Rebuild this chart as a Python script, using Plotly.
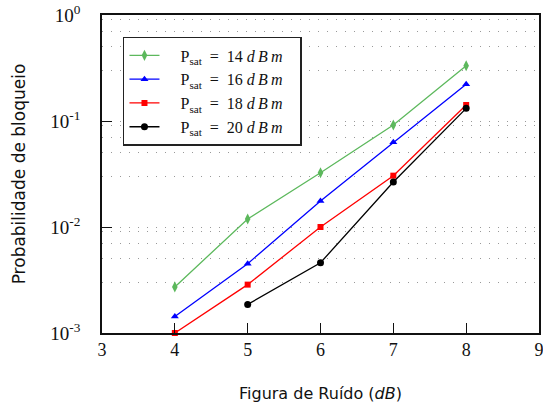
import plotly.graph_objects as go

# noise figure (dB) and blocking probability per saturation power
nf = [4, 5, 6, 7, 8]
nf_20 = [5, 6, 7, 8]
p14 = [0.00272, 0.0119, 0.0325, 0.0917, 0.332]
p16 = [0.00143, 0.00451, 0.0176, 0.063, 0.222]
p18 = [0.001, 0.00286, 0.01, 0.0305, 0.1416]
p20 = [0.00186, 0.0046, 0.0266, 0.1316]

y_ticks = [1e-3, 1e-2, 1e-1, 1]
y_ticktext = ["10<sup>-3</sup>", "10<sup>-2</sup>", "10<sup>-1</sup>", "10<sup>0</sup>"]
minor_vals = [m * 10.0 ** e for e in (-3, -2, -1) for m in (3, 5, 7, 9)]

SERIF = "Liberation Serif, DejaVu Serif, serif"
SANS = "DejaVu Sans, sans-serif"
NB = "\u00a0"
TH = "\u2009"

series = [
    (nf, p14, "14", "#5cb85c", "diamond-tall", 8),
    (nf, p16, "16", "#0000ff", "triangle-up", 7),
    (nf, p18, "18", "#ff0000", "square", 6),
    (nf_20, p20, "20", "#000000", "circle", 7),
]

fig = go.Figure()
for x, y, p, c, sym, sz in series:
    fig.add_trace(go.Scatter(
        x=x, y=y, mode="lines+markers",
        name=(f"{NB * 4}P<sub>sat</sub>{NB * 2}={NB * 2}{p}{NB}"
              f"<i>d{TH}B{TH}m</i>{NB * 3}"),
        line=dict(color=c, width=1.3),
        marker=dict(color=c, symbol=sym, size=sz),
        cliponaxis=False,
    ))

fig.update_layout(
    width=543, height=408,
    margin=dict(l=102, r=4, t=15, b=75, autoexpand=False),
    plot_bgcolor="white", paper_bgcolor="white",
    showlegend=True,
    legend=dict(
        x=0.048, y=0.931, xanchor="left", yanchor="top",
        bgcolor="white", bordercolor="#222", borderwidth=1.5,
        font=dict(family=SERIF, size=16, color="#111"),
        tracegroupgap=0,
    ),
    font=dict(family=SERIF, color="#111"),
)

fig.update_xaxes(
    range=[3, 9], dtick=1, tick0=3, automargin=False,
    ticklabeloverflow="allow",
    showline=True, linecolor="#111", linewidth=1.5, mirror=True,
    ticks="inside", ticklen=10, tickcolor="#111", tickwidth=1,
    showgrid=False, zeroline=False,
    tickfont=dict(family=SERIF, size=18, color="#111"),
    title=dict(text="Figura de Ruído (<i>dB</i>)", font=dict(family=SANS, size=16, color="#111"), standoff=28),
)
fig.update_yaxes(
    type="log", range=[-3, 0], automargin=False,
    tickvals=y_ticks, ticktext=y_ticktext,
    showline=True, linecolor="#111", linewidth=1.5, mirror=True,
    ticks="inside", ticklen=10, tickcolor="#111", tickwidth=1,
    ticklabelstandoff=16,
    showgrid=True, gridcolor="#999", gridwidth=1, griddash="1px,8px",
    minor=dict(tickvals=minor_vals, showgrid=True, gridcolor="#999", gridwidth=1, griddash="1px,8px", ticks=""),
    zeroline=False,
    tickfont=dict(family=SERIF, size=19, color="#111"),
    title=dict(text="Probabilidade de bloqueio", font=dict(family=SANS, size=17, color="#111"), standoff=20),
)

fig.write_html("out.html", config={"displayModeBar": False},
               post_script="document.body.style.margin='0';")
